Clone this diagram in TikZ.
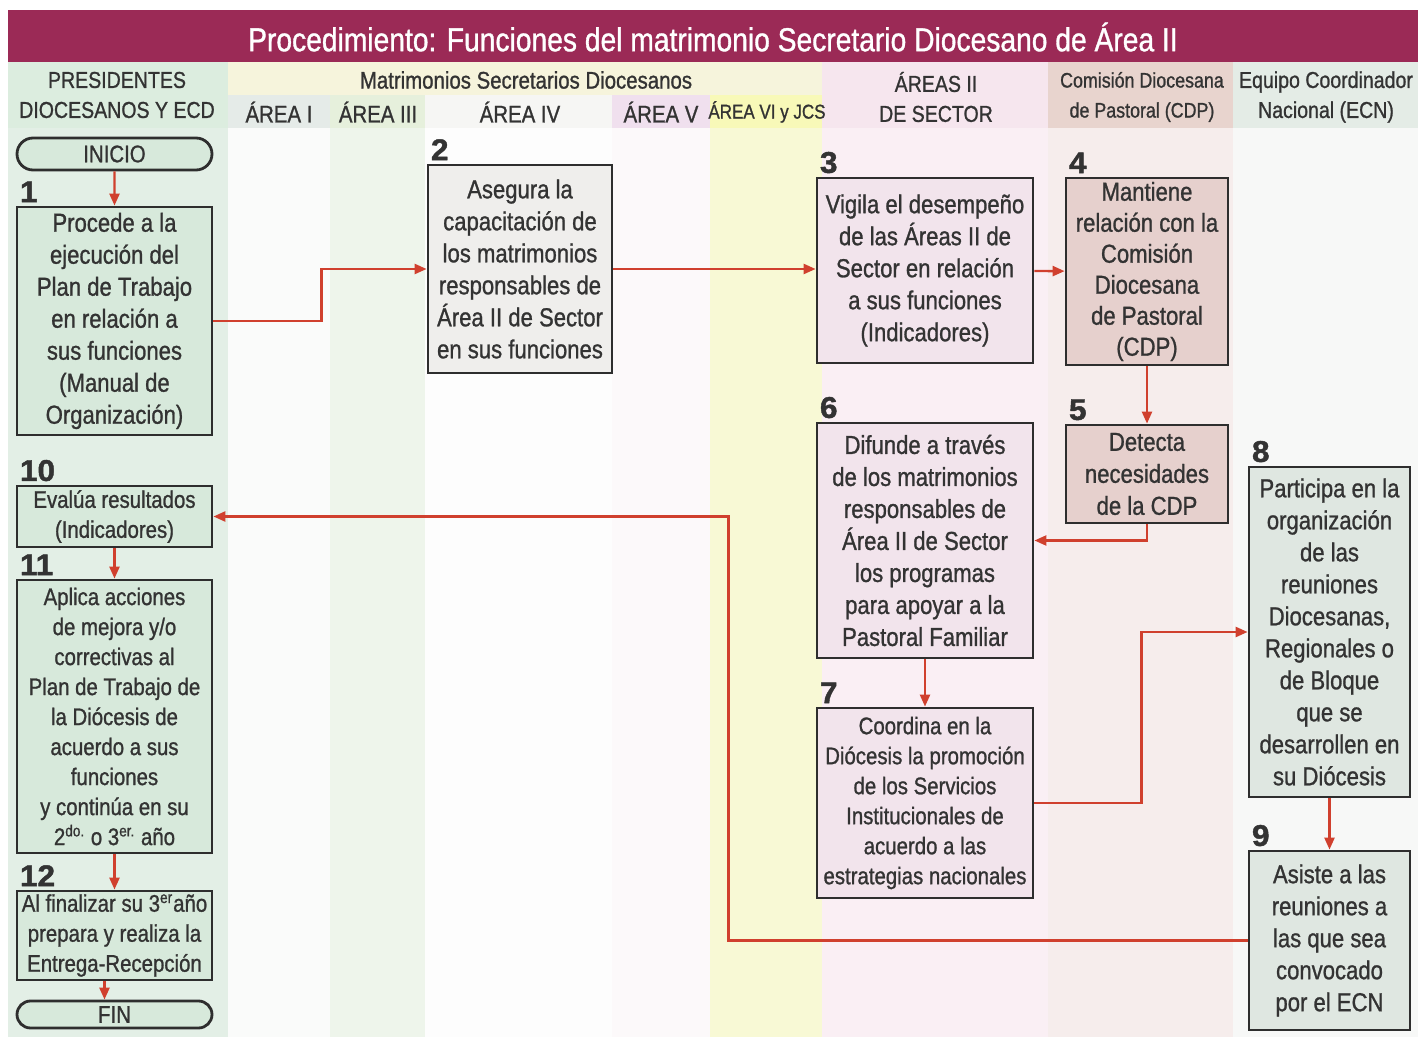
\documentclass[tikz,border=0pt]{standalone}
\usepackage{fontspec}
\setmainfont{Liberation Sans}[FakeStretch=0.85,FakeBold=1]
\newfontfamily\numfont{Liberation Sans}[FakeStretch=1.05,FakeBold=1.5]
\usepackage{xcolor}
\usepackage{tikz}
\usetikzlibrary{arrows.meta,shapes.misc}
\definecolor{titulo}{HTML}{9B2A56}
\definecolor{rojo}{HTML}{D0402E}
\definecolor{borde}{HTML}{2E2E2E}
\definecolor{texto}{HTML}{333333}
\definecolor{colPres}{HTML}{E3EFE6}
\definecolor{colAI}{HTML}{FAFBFA}
\definecolor{colAIII}{HTML}{EEF5EB}
\definecolor{colAIV}{HTML}{FDFDFD}
\definecolor{colAV}{HTML}{FCF9FA}
\definecolor{colAVI}{HTML}{F8F9D5}
\definecolor{colSec}{HTML}{FAEFF4}
\definecolor{colCDP}{HTML}{F6EDEC}
\definecolor{colECN}{HTML}{F7F8F7}
\definecolor{encPres}{HTML}{DCEDDF}
\definecolor{encMat}{HTML}{F6F4DC}
\definecolor{encAI}{HTML}{E5EBE8}
\definecolor{encAIII}{HTML}{E6F0DC}
\definecolor{encAIV}{HTML}{F6F6F4}
\definecolor{encAV}{HTML}{F0E0EE}
\definecolor{encAVI}{HTML}{F8F9B8}
\definecolor{encSec}{HTML}{F6E6EE}
\definecolor{encCDP}{HTML}{E8D4CE}
\definecolor{encECN}{HTML}{E4ECE6}
\definecolor{cajaVerde}{HTML}{D7E9DB}
\definecolor{cajaGris}{HTML}{EFEEEC}
\definecolor{cajaRosa}{HTML}{F2E4EC}
\definecolor{cajaCDP}{HTML}{E6D0CD}
\definecolor{cajaECN}{HTML}{DFE7E1}
\tikzset{
Flecha/.style={
 draw=rojo,
 line width=1.2pt,
 -{Triangle[length=6pt,width=5pt]}
 },
Caja/.style={
 draw=borde,
 line width=1.4pt,
 text=texto,
 align=center,
 inner sep=0pt,
 font={\fontsize{13}{16}\selectfont}
 },
CajaChica/.style={
 Caja,
 font={\fontsize{12}{15}\selectfont}
 },
Extremo/.style={
 Caja,
 rounded rectangle,
 minimum width=97.5pt,
 font={\fontsize{12}{14}\selectfont}
 },
Numero/.style={
 anchor=south west,
 text=texto,
 inner xsep=2pt,
 inner ysep=1.5pt,
 font={\numfont\bfseries\fontsize{15}{15}\selectfont}
 },
Encabezado/.style={
 text=texto,
 align=center,
 inner sep=0pt,
 font={\fontsize{11.5}{15}\selectfont}
 }
}

\begin{document}
\begin{tikzpicture}[x=0.5pt,y=-0.5pt]
\useasboundingbox (0,0) rectangle (1425,1037);
\fill[white] (0,0) rectangle (1425,1037);
% franjas de las columnas
\fill[colPres] (8,128) rectangle (228,1037);
\fill[colAI] (228,128) rectangle (330,1037);
\fill[colAIII] (330,128) rectangle (425,1037);
\fill[colAIV] (425,128) rectangle (612,1037);
\fill[colAV] (612,128) rectangle (710,1037);
\fill[colAVI] (710,128) rectangle (822,1037);
\fill[colSec] (822,128) rectangle (1048,1037);
\fill[colCDP] (1048,128) rectangle (1233,1037);
\fill[colECN] (1233,128) rectangle (1418,1037);
% encabezados
\fill[encPres] (8,62) rectangle (228,128);
\fill[encMat] (228,62) rectangle (822,95);
\fill[encAI] (228,95) rectangle (330,128);
\fill[encAIII] (330,95) rectangle (425,128);
\fill[encAIV] (425,95) rectangle (612,128);
\fill[encAV] (612,95) rectangle (710,128);
\fill[encAVI] (710,95) rectangle (822,128);
\fill[encSec] (822,62) rectangle (1048,128);
\fill[encCDP] (1048,62) rectangle (1233,128);
\fill[encECN] (1233,62) rectangle (1418,128);
\fill[titulo] (8,10) rectangle (1418,62);
\node[text=white, inner sep=0pt, font={\fontsize{16.6}{18}\selectfont}] (tit) at (713,37)
  {Procedimiento: Funciones del matrimonio Secretario Diocesano de Área II};
\node[Encabezado] (hPres) at (117,95) {PRESIDENTES\\DIOCESANOS Y ECD};
\node[Encabezado, font={\fontsize{12}{15}\selectfont}] (hMat) at (526,80) {Matrimonios Secretarios Diocesanos};
\node[Encabezado, font={\fontsize{12}{15}\selectfont}] (hAI) at (279,112) {ÁREA I};
\node[Encabezado, font={\fontsize{12}{15}\selectfont}] (hAIII) at (378,112) {ÁREA III};
\node[Encabezado, font={\fontsize{12}{15}\selectfont}] (hAIV) at (520,112) {ÁREA IV};
\node[Encabezado, font={\fontsize{12}{15}\selectfont}] (hAV) at (661,112) {ÁREA V};
\node[Encabezado, font={\fontsize{10}{15}\selectfont}] (hAVI) at (767,112) {ÁREA VI y JCS};
\node[Encabezado] (hSec) at (936,97) {ÁREAS II\\DE SECTOR};
\node[Encabezado, font={\fontsize{10.5}{15}\selectfont}] (hCDP) at (1142,97) {Comisión Diocesana\\de Pastoral (CDP)};
\node[Encabezado] (hECN) at (1326,97) {Equipo Coordinador\\Nacional (ECN)};

% pasos
\node[Extremo, fill=cajaVerde, minimum height=16pt] (ini) at (114.5,154) {INICIO};
\node[Caja, fill=cajaVerde, minimum width=97.5pt, minimum height=114pt] (b1) at (114.5,321)
  {Procede a la\\ejecución del\\Plan de Trabajo\\en relación a\\sus funciones\\(Manual de\\Organización)};
\node[Caja, fill=cajaGris, minimum width=92pt, minimum height=104pt] (b2) at (520,269)
  {Asegura la\\capacitación de\\los matrimonios\\responsables de\\Área II de Sector\\en sus funciones};
\node[Caja, fill=cajaRosa, minimum width=108pt, minimum height=92.5pt] (b3) at (925,270.5)
  {Vigila el desempeño\\de las Áreas II de\\Sector en relación\\a sus funciones\\(Indicadores)};
\node[Caja, fill=cajaCDP, minimum width=81pt, minimum height=93.5pt, font={\fontsize{13}{15.5}\selectfont}] (b4) at (1147,271.5)
  {Mantiene\\relación con la\\Comisión\\Diocesana\\de Pastoral\\(CDP)};
\node[Caja, fill=cajaCDP, minimum width=81pt, minimum height=49pt] (b5) at (1147,474)
  {Detecta\\necesidades\\de la CDP};
\node[Caja, fill=cajaRosa, minimum width=108pt, minimum height=117.5pt] (b6) at (925,540.5)
  {Difunde a través\\de los matrimonios\\responsables de\\Área II de Sector\\los programas\\para apoyar a la\\Pastoral Familiar};
\node[CajaChica, fill=cajaRosa, minimum width=108pt, minimum height=95pt] (b7) at (925,803)
  {Coordina en la\\Diócesis la promoción\\de los Servicios\\Institucionales de\\acuerdo a las\\estrategias nacionales};
\node[Caja, fill=cajaECN, minimum width=80.5pt, minimum height=165pt] (b8) at (1329.5,632)
  {Participa en la\\organización\\de las\\reuniones\\Diocesanas,\\Regionales o\\de Bloque\\que se\\desarrollen en\\su Diócesis};
\node[Caja, fill=cajaECN, minimum width=80.5pt, minimum height=89.5pt] (b9) at (1329.5,940.5)
  {Asiste a las\\reuniones a\\las que sea\\convocado\\por el ECN};
\node[CajaChica, fill=cajaVerde, minimum width=97.5pt, minimum height=30.5pt] (b10) at (114.5,516.5)
  {Evalúa resultados\\(Indicadores)};
\node[CajaChica, fill=cajaVerde, minimum width=97.5pt, minimum height=136.5pt] (b11) at (114.5,716.5)
  {Aplica acciones\\de mejora y/o\\correctivas al\\Plan de Trabajo de\\la Diócesis de\\acuerdo a sus\\funciones\\y continúa en su\\2\textsuperscript{do.} o 3\textsuperscript{er.} año};
\node[CajaChica, fill=cajaVerde, minimum width=97.5pt, minimum height=44.5pt] (b12) at (114.5,935.5)
  {Al finalizar su 3\textsuperscript{er}año\\prepara y realiza la\\Entrega-Recepción};
\node[Extremo, fill=cajaVerde, minimum height=13.5pt] (fin) at (114.5,1014.5) {FIN};

% numeros
\node[Numero] (n1) at (b1.north west) {1};
\node[Numero] (n2) at (b2.north west) {2};
\node[Numero] (n3) at (b3.north west) {3};
\node[Numero] (n4) at (b4.north west) {4};
\node[Numero] (n5) at (b5.north west) {5};
\node[Numero] (n6) at (b6.north west) {6};
\node[Numero] (n7) at (b7.north west) {7};
\node[Numero] (n8) at (b8.north west) {8};
\node[Numero] (n9) at (b9.north west) {9};
\node[Numero] (n10) at (b10.north west) {10};
\node[Numero] (n11) at (b11.north west) {11};
\node[Numero] (n12) at (b12.north west) {12};

% flechas
\draw[Flecha] (ini) -- (b1);
\draw[Flecha] (b1.east) -- ++(108,0) |- (b2.west);
\draw[Flecha] (b2.east) -- (b2.east -| b3.west);
\draw[Flecha] (b3) -- (b4);
\draw[Flecha] (b4) -- (b5);
\draw[Flecha] (b5) |- (b6);
\draw[Flecha] (b6) -- (b7);
\draw[Flecha] (b7.east) -- ++(107,0) |- (b8.west);
\draw[Flecha] (b8) -- (b9);
\draw[Flecha] (b9.west) -- ++(-519,0) |- (b10.east);
\draw[Flecha] (b10) -- (b11);
\draw[Flecha] (b11) -- (b12);
\draw[Flecha] ([xshift=-5pt]b12.south) -- ([xshift=-5pt]fin.north);
\end{tikzpicture}
\end{document}
